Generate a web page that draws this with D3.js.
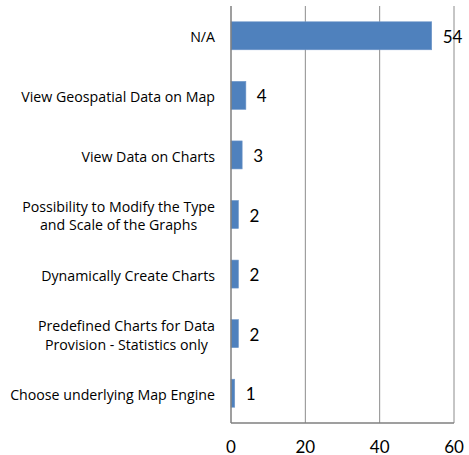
<!DOCTYPE html>
<html>
<head>
<meta charset="utf-8">
<script src="https://cdn.jsdelivr.net/npm/d3@7"></script>
<style>
  html, body { margin: 0; padding: 0; background: #fff; }
  svg { display: block; }
</style>
</head>
<body>
<svg id="chart" width="469" height="455"></svg>
<script>
// Feature requests, count of responses
const categories = [
  ["N/A"],
  ["View Geospatial Data on Map"],
  ["View Data on Charts"],
  ["Possibility to Modify the Type", "and Scale of the Graphs"],
  ["Dynamically Create Charts"],
  ["Predefined Charts for Data", "Provision - Statistics only"],
  ["Choose underlying Map Engine"]
];
const values = [54, 4, 3, 2, 2, 2, 1];
const xTicks = [0, 20, 40, 60];

(function () {
  const svg = d3.select("#chart");
  const plotL = 231, plotR = 454, plotT = 6, plotB = 423;
  const labelFont = "'Open Sans', sans-serif";
  const numFont = "Lato, 'Open Sans', sans-serif";

  const x = d3.scaleLinear().domain([0, 60]).range([plotL, plotR]);
  const y = d3.scaleBand().domain(d3.range(categories.length))
    .range([plotT, plotB]).paddingInner(0.53).paddingOuter(0.265);

  // vertical gridlines
  svg.append("g").selectAll("line").data(xTicks.filter(d => d > 0)).join("line")
    .attr("x1", d => x(d)).attr("x2", d => x(d))
    .attr("y1", plotT).attr("y2", plotB)
    .attr("stroke", "#8c8c8c").attr("stroke-width", 1);

  // bars
  svg.append("g").selectAll("rect").data(values).join("rect")
    .attr("x", x(0))
    .attr("y", (d, i) => y(i))
    .attr("width", d => x(d) - x(0))
    .attr("height", y.bandwidth())
    .attr("fill", "#4f81bd")
    .attr("stroke", "#6f97c9").attr("stroke-width", 0.6);

  // axis lines
  svg.append("line").attr("x1", plotL).attr("x2", plotL).attr("y1", plotT).attr("y2", plotB)
    .attr("stroke", "#7f7f7f").attr("stroke-width", 1.5);
  svg.append("line").attr("x1", plotL).attr("x2", plotR).attr("y1", plotB).attr("y2", plotB)
    .attr("stroke", "#7f7f7f").attr("stroke-width", 1.5);

  // x tick labels
  svg.append("g").selectAll("text").data(xTicks).join("text")
    .attr("x", d => x(d)).attr("y", 452.5)
    .attr("text-anchor", "middle")
    .attr("font-family", numFont).attr("font-size", 17).attr("fill", "#000")
    .text(d => d);

  // value labels
  svg.append("g").selectAll("text").data(values).join("text")
    .attr("x", d => x(d) + 11)
    .attr("y", (d, i) => y(i) + y.bandwidth() / 2 + 7)
    .attr("font-family", numFont).attr("font-size", 17).attr("fill", "#000")
    .text(d => d);

  // category labels: each block right-aligned, lines centred within it
  const labelRight = 215;
  const lg = svg.append("g");
  categories.forEach((lines, i) => {
    const cy = y(i) + y.bandwidth() / 2;
    const lh = 18.7;
    const texts = lines.map((t, j) => lg.append("text")
      .attr("y", cy + (j - (lines.length - 1) / 2) * lh + 6.6)
      .attr("font-family", labelFont).attr("font-size", 14.2).attr("fill", "#000")
      .attr("text-anchor", "middle")
      .text(t));
    const w = d3.max(texts.map(t => t.node().getComputedTextLength()));
    texts.forEach(t => t.attr("x", labelRight - w / 2));
  });
})();
</script>
</body>
</html>
